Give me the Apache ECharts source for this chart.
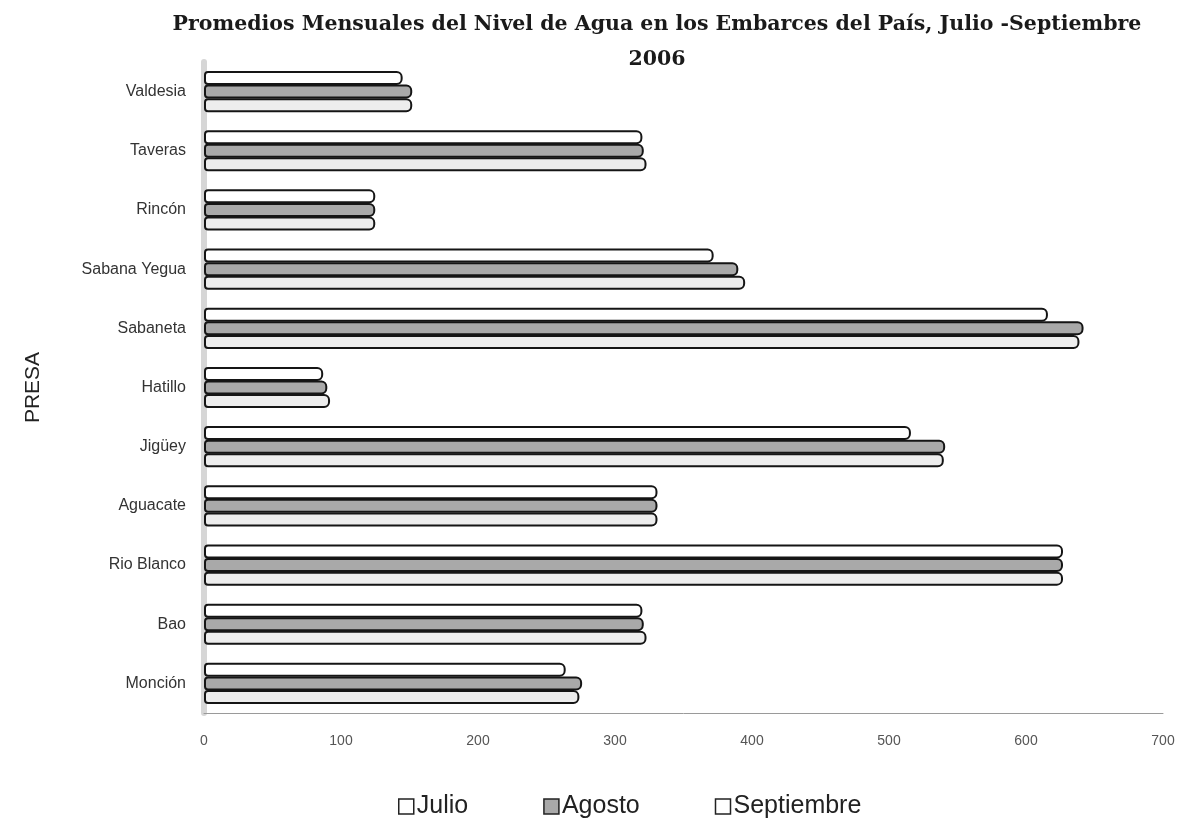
<!DOCTYPE html>
<html>
<head>
<meta charset="utf-8">
<script src="https://cdn.jsdelivr.net/npm/echarts@6/dist/echarts.min.js"></script>
<style>html,body{margin:0;padding:0;background:#fff;}#c{width:1179px;height:828px;}</style>
</head>
<body>
<div id="c"></div>
<script>
// Categories listed top to bottom as in the picture
const presas = ['Valdesia', 'Taveras', 'Rincón', 'Sabana Yegua', 'Sabaneta', 'Hatillo', 'Jigüey', 'Aguacate', 'Rio Blanco', 'Bao', 'Monción'];
const julio =      [145, 320, 125, 372, 616, 87, 516, 331, 627, 320, 264];
const agosto =     [152, 321, 125, 390, 642, 90, 541, 331, 627, 321, 276];
const septiembre = [152, 323, 125, 395, 639, 92, 540, 331, 627, 323, 274];
const xTicks = [0, 100, 200, 300, 400, 500, 600, 700];
const seriesNames = ['Julio', 'Agosto', 'Septiembre'];
const titleText = 'Promedios Mensuales del Nivel de Agua en los Embarces del País, Julio -Septiembre\n2006';

const chart = echarts.init(document.getElementById('c'));
const fills = ['#ffffff', '#a9a9a9', '#ededed'];
const legendFills = ['#ffffff', '#a9a9a9', '#ffffff'];
const values = [julio, agosto, septiembre];

chart.setOption({
  backgroundColor: '#ffffff',
  animation: false,
  title: {
    text: titleText,
    left: 657,
    top: 7,
    padding: 0,
    textAlign: 'center',
    textStyle: {
      fontFamily: 'DejaVu Serif',
      fontWeight: 'bold',
      fontSize: 20.5,
      lineHeight: 35,
      color: '#1a1a1a'
    }
  },
  legend: {
    data: seriesNames.map((n, i) => ({ name: n, itemStyle: { color: legendFills[i] } })),
    top: 794,
    left: 398,
    padding: 0,
    itemGap: 75,
    itemWidth: 15,
    itemHeight: 15,
    icon: 'rect',
    textStyle: { fontFamily: 'Liberation Sans', fontSize: 25, color: '#222', padding: [0, 0, 0, -2] },
    itemStyle: { borderColor: '#222', borderWidth: 1.5 }
  },
  grid: { left: 204, right: 16, top: 62, bottom: 115, containLabel: false },
  xAxis: {
    type: 'value',
    min: 0,
    max: 700,
    interval: 100,
    axisLine: { show: true, lineStyle: { color: '#9a9a9a', width: 1 } },
    axisTick: { show: false },
    splitLine: { show: false },
    axisLabel: {
      fontFamily: 'Liberation Sans',
      fontSize: 14,
      color: '#555',
      margin: 21,
      formatter: v => xTicks.includes(v) ? String(v) : ''
    }
  },
  yAxis: {
    type: 'category',
    data: presas,
    inverse: true,
    name: 'PRESA',
    nameLocation: 'middle',
    nameGap: 160,
    nameRotate: 90,
    nameTextStyle: { fontFamily: 'Liberation Sans', fontSize: 21, color: '#222' },
    axisLine: { show: true, lineStyle: { color: '#d6d6d6', width: 6 } },
    axisTick: { show: false },
    axisLabel: { fontFamily: 'Liberation Sans', fontSize: 16, color: '#333', margin: 18 }
  },
  series: seriesNames.map((name, i) => ({
    name: name,
    type: 'bar',
    data: values[i],
    barWidth: 14,
    barGap: '-3%',
    itemStyle: {
      color: fills[i],
      borderColor: '#151515',
      borderWidth: 2,
      borderRadius: [3, 5, 5, 3]
    }
  }))
});
</script>
</body>
</html>
